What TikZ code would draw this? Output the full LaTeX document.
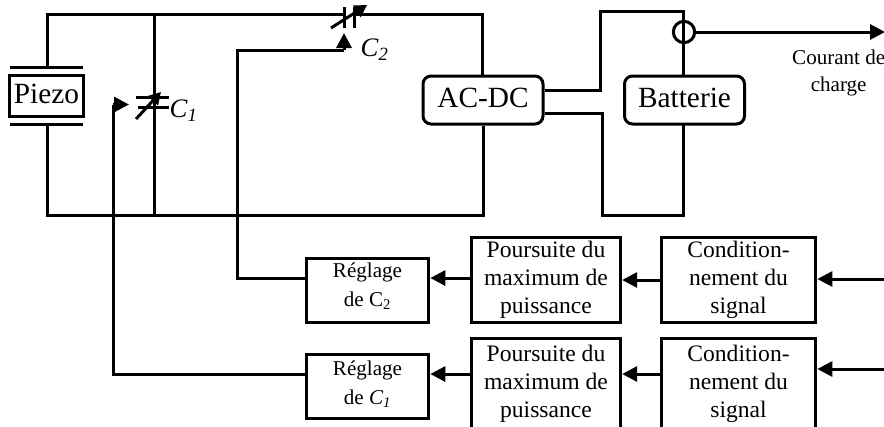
\documentclass[tikz,border=0pt]{standalone}
\usepackage{fontspec}
\setmainfont{Liberation Serif}
\usetikzlibrary{positioning, arrows.meta, calc}

\begin{document}
\begin{tikzpicture}[
  x=0.75pt, y=-0.75pt,
  wire/.style={line width=2.25pt, line join=miter},
  arrow/.style={wire, -{Triangle[length=11.25pt,width=11.25pt]}},
  smallarrow/.style={line width=2.25pt, -{Triangle[length=9pt,width=10pt]}},
  plate/.style={line width=2.25pt},
  bloc/.style={rectangle, draw, line width=2.25pt, align=center, inner sep=0pt, font=\fontsize{17.7}{21.2}\selectfont},
  reglage/.style={bloc, minimum width=92pt, minimum height=48pt, font=\fontsize{15.8}{22}\selectfont},
  power/.style={rectangle, draw, line width=2.25pt, rounded corners=6pt, inner sep=0pt, minimum width=90pt, minimum height=36pt, text depth=3.75pt, font=\fontsize{22}{24}\selectfont},
  label/.style={font=\fontsize{20}{22}\itshape, anchor=base west}
]
\clip (0,0) rectangle (884,426);

% power stage
\node[rectangle, draw, line width=2.25pt, inner sep=0pt, minimum width=55pt, minimum height=31pt, text depth=3pt, font=\fontsize{22}{24}\selectfont] (piezo) at (46.5,96) {Piezo};
\node[power] (acdc) at (483,100) {AC-DC};
\node[power] (batterie) at (684.5,100) {Batterie};

\coordinate (plateH) at (47,67);
\coordinate (plateB) at (47,124);
\draw[plate] (10,67) -- (83,67);
\draw[plate] (10,124) -- (83,124);

\coordinate (hautG) at (47,14.5);
\coordinate (basG) at (47,215);
\coordinate (hautD) at (482,14.5);
\coordinate (basD) at (483,215);
\draw[wire] (plateH) -- (hautG) -- (344,14.5);
\draw[wire] (354.5,14.5) -- (hautD) -- (hautD |- acdc.north);
\draw[wire] (plateB) -- (basG) -- (basD) -- (basD |- acdc.south);
\coordinate (noeudH) at (154,14.5);
\coordinate (noeudB) at (154,215);
\draw[wire] (noeudH) -- (noeudB);

% C1
\draw[plate] (136,97) -- (169,97);
\draw[plate] (138,107) -- (169,107);
\draw[smallarrow] (136,119) -- (161,92);
\node[label] (labelA) at (165,117) {C\textsubscript{1}};

% C2
\draw[plate] (344,7) -- (344,28);
\draw[plate] (354.5,7) -- (354.5,28);
\draw[smallarrow] (331,28) -- (367,5);
\node[label] (labelB) at (356,56) {C\textsubscript{2}};

% batterie
\coordinate (sortieH) at (600,90);
\coordinate (sortieB) at (602,113.5);
\draw[wire] (acdc.east |- sortieH) -- (sortieH) -- (600,11) -- (683,11) -- (683,76);
\draw[wire] (acdc.east |- sortieB) -- (sortieB) -- (602,215) -- (683,215) -- (683,124);
\node[circle, draw, line width=2.25pt, inner sep=0pt, minimum size=16pt] (capteur) at (684,32) {};
\coordinate (sortie) at (885,32);
\draw[arrow] (capteur.east) -- (sortie);
\node[font=\fontsize{15.8}{20}\selectfont, align=center] (courant) at (838.7,73) {Courant de \\ charge};

% commande
\node[reglage, text depth=8.5pt] (reglageB) at (367.5,290) {R\'eglage \\ de C\textsubscript{2}};
\node[reglage, text depth=6pt] (reglageA) at (367.5,386.5) {R\'eglage \\ de \textit{C\textsubscript{1}}};
\node[bloc, minimum width=112pt, minimum height=64pt] (poursuiteB) at (546,280) {Poursuite du \\ maximum de \\ puissance};
\node[bloc, minimum width=112pt, minimum height=69pt] (poursuiteA) at (546,384) {Poursuite du \\ maximum de \\ puissance};
\node[bloc, minimum width=116pt, minimum height=64pt] (conditionB) at (738.5,280) {Condition- \\ nement du \\ signal};
\node[bloc, minimum width=116pt, minimum height=69pt] (conditionA) at (738.5,384) {Condition- \\ nement du \\ signal};

\coordinate (entreeB) at (884,279);
\coordinate (entreeA) at (884,369);
\draw[arrow] (entreeB) -- (conditionB.east |- entreeB);
\draw[arrow] (entreeA) -- (conditionA.east |- entreeA);
\draw[arrow] (conditionB.west) -- (poursuiteB.east);
\draw[arrow] (conditionA.west |- 0,374) -- (poursuiteA.east |- 0,374);
\draw[arrow] (poursuiteB.west |- 0,278) -- (reglageB.east |- 0,278);
\draw[arrow] (poursuiteA.west |- 0,374) -- (reglageA.east |- 0,374);

\coordinate (cdeB) at (237,50);
\coordinate (cdeA) at (113,104.5);
\draw[wire] (reglageB.west |- 0,278) -- (237,278) -- (cdeB) -- (344,50);
\draw[wire, -{Triangle[length=11.25pt,width=11.25pt]}] (344,50) -- (344,33);
\draw[wire] (reglageA.west |- 0,374) -- (113,374) -- (cdeA);
\draw[wire, -{Triangle[length=11.25pt,width=11.25pt]}] (cdeA) -- (129,104.5);
\end{tikzpicture}
\end{document}
